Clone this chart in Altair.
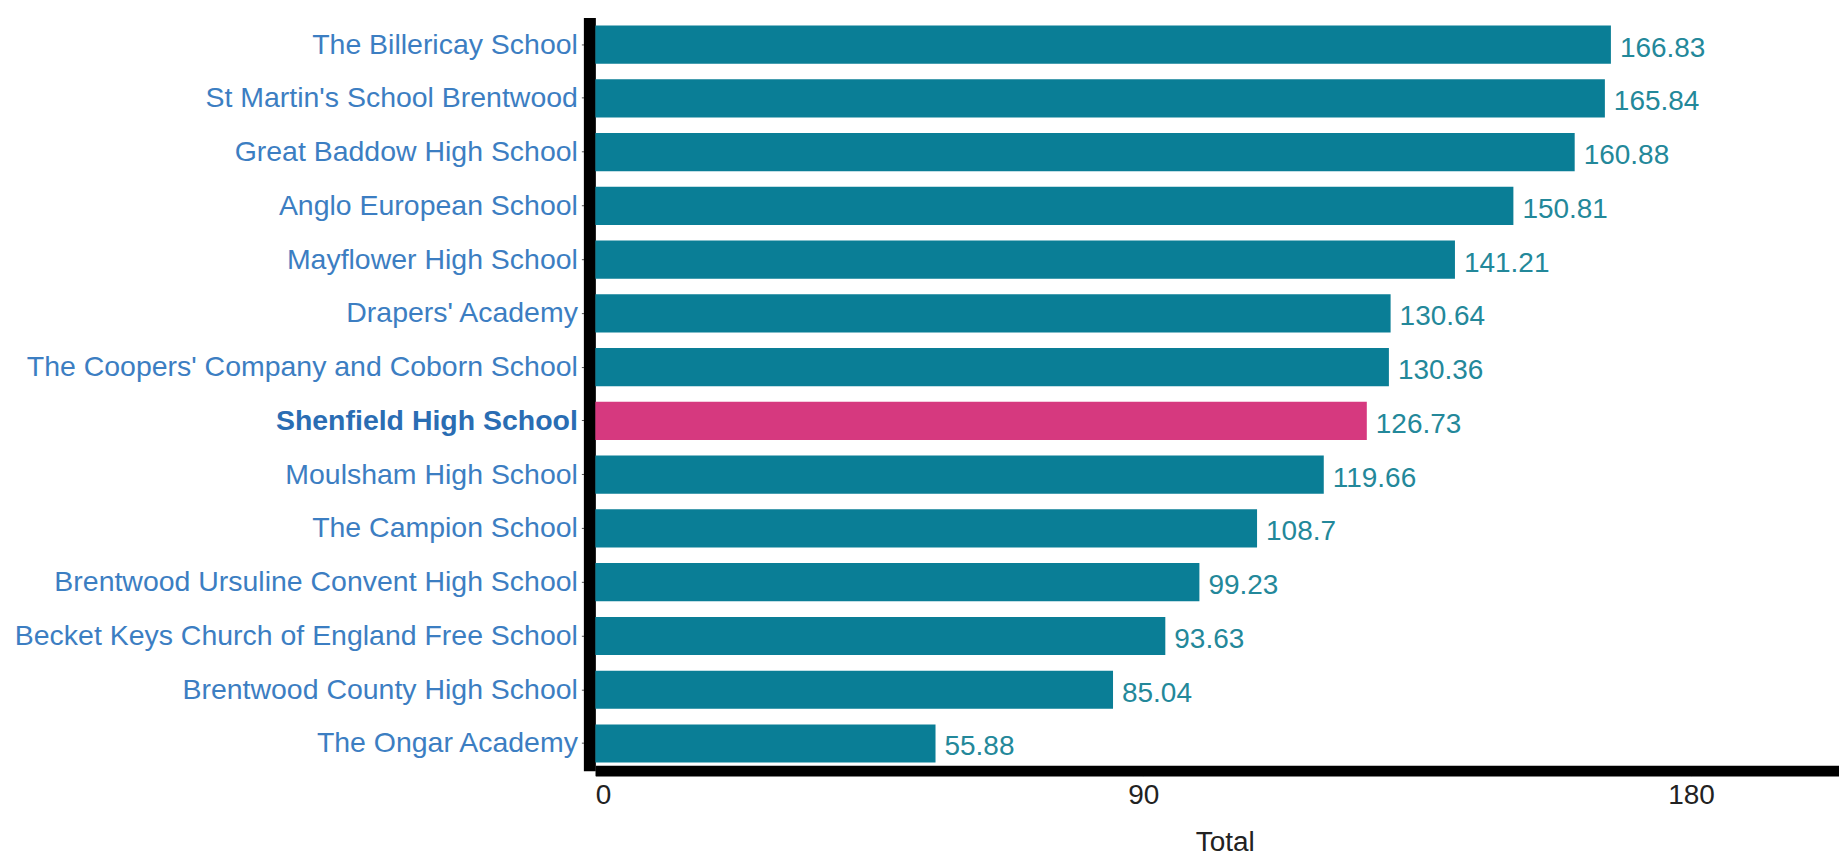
import altair as alt
import pandas as pd

schools = [
    "The Billericay School",
    "St Martin's School Brentwood",
    "Great Baddow High School",
    "Anglo European School",
    "Mayflower High School",
    "Drapers' Academy",
    "The Coopers' Company and Coborn School",
    "Shenfield High School",
    "Moulsham High School",
    "The Campion School",
    "Brentwood Ursuline Convent High School",
    "Becket Keys Church of England Free School",
    "Brentwood County High School",
    "The Ongar Academy",
]
totals = [166.83, 165.84, 160.88, 150.81, 141.21, 130.64, 130.36,
          126.73, 119.66, 108.7, 99.23, 93.63, 85.04, 55.88]
highlight = "Shenfield High School"
x_ticks = [0, 90, 180]

df = pd.DataFrame({
    "School": schools,
    "Total": totals,
    "label": [str(v) for v in totals],
    "hl": [s == highlight for s in schools],
})

FONT = "Liberation Sans"

base = alt.Chart(df)

bars = base.mark_bar().encode(
    x=alt.X("Total:Q",
            scale=alt.Scale(domain=[0, 204.3], nice=False, zero=True),
            axis=alt.Axis(values=x_ticks, title="Total", titleX=630)),
    y=alt.Y("School:N", sort=None,
            scale=alt.Scale(paddingInner=0.29, paddingOuter=0.15),
            axis=alt.Axis(
                title=None,
                labelFontWeight=alt.condition(f"datum.value == '{highlight}'",
                                              alt.value("bold"), alt.value("normal")),
                labelColor=alt.condition(f"datum.value == '{highlight}'",
                                         alt.value("#2a6db3"), alt.value("#3c7ec2")),
            )),
    color=alt.condition(alt.datum.hl, alt.value("#d6397f"), alt.value("#0a7e96")),
)

texts = base.mark_text(align="left", baseline="middle", dx=9, dy=4,
                       fontSize=28, font=FONT, color="#23889a").encode(
    x="Total:Q",
    y=alt.Y("School:N", sort=None),
    text="label:N",
)

chart = (bars + texts).properties(
    width=1245, height=754,
    padding={"left": 6, "top": 9, "right": 0, "bottom": 0},
).configure_view(stroke=None).configure_axis(
    labelFont=FONT, titleFont=FONT, grid=False,
).configure_axisX(
    domainColor="black", domainWidth=11,
    tickColor="#666", tickSize=5, tickWidth=1,
    labelFontSize=28, labelColor="#222", labelPadding=6,
    titleFontSize=28, titleColor="#222", titleFontWeight="normal", titlePadding=19,
).configure_axisY(
    domainColor="black", domainWidth=12, offset=6,
    tickColor="#555", tickSize=8, tickWidth=1,
    labelFontSize=28.5, labelPadding=4, labelLimit=800,
)

chart.save("out.html", embed_options={"renderer": "svg", "actions": False})
